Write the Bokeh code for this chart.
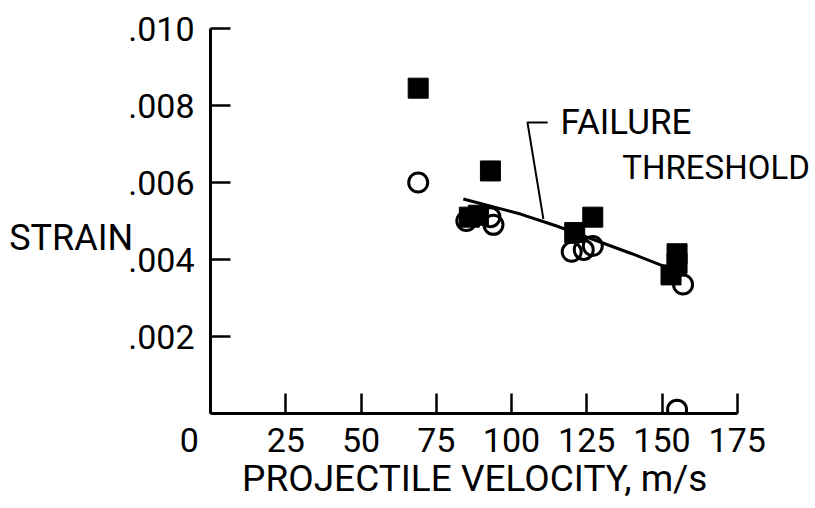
from bokeh.plotting import figure
from bokeh.models import FixedTicker, Label
from bokeh.embed import file_html
from bokeh.resources import INLINE

# ---- data ----
sq_vel = [69, 93, 86, 89, 121, 127, 155, 155, 153]
sq_strain = [0.00845, 0.0063, 0.0051, 0.00515, 0.0047, 0.0051, 0.00415, 0.0039, 0.0036]

circ_vel = [69, 85, 93, 94, 120, 124, 127, 157, 155]
circ_strain = [0.0060, 0.0050, 0.0051, 0.0049, 0.0042, 0.00425, 0.00435, 0.00335, 0.0001]

thr_vel = [84, 103, 115, 140, 152]
thr_strain = [0.00557, 0.00518, 0.00487, 0.00415, 0.00378]

leader_vel = [112, 105.3, 110.6]
leader_strain = [0.00756, 0.00756, 0.00505]

NB = "\u00a0"
x_ticks = [0, 25, 50, 75, 100, 125, 150, 175]
x_tick_labels = ["0" + NB * 5, "25", "50", "75", "100", "125", "150", "175"]
y_ticks = [0.002, 0.004, 0.006, 0.008, 0.010]
y_tick_labels = [".002", ".004", ".006", ".008", ".010"]

FONT = "Roboto"

p = figure(width=815, height=508, output_backend="svg", toolbar_location=None,
           x_range=(0, 200), y_range=(0, 0.010),
           min_border_left=210, min_border_right=3, min_border_top=28, min_border_bottom=95)
p.outline_line_color = None
p.grid.visible = False
p.background_fill_color = "white"
p.border_fill_color = "white"

for ax in (p.xaxis[0], p.yaxis[0]):
    ax.axis_line_width = 3
    ax.axis_line_color = "black"
    ax.major_tick_line_width = 2.5
    ax.major_tick_line_color = "black"
    ax.major_tick_in = 20
    ax.major_tick_out = 0
    ax.minor_tick_line_color = None
    ax.major_label_text_font = FONT
    ax.major_label_text_font_size = "34px"
    ax.major_label_text_color = "black"
    ax.axis_label_text_font = FONT
    ax.axis_label_text_font_style = "normal"
    ax.axis_label_text_color = "black"

xa = p.xaxis[0]
xa.ticker = FixedTicker(ticks=x_ticks)
xa.major_label_overrides = {t: l for t, l in zip(x_ticks, x_tick_labels)}
xa.bounds = (0, 175)
xa.major_label_standoff = 6
xa.axis_label = "PROJECTILE VELOCITY, m/s" + NB * 8
xa.axis_label_text_font_size = "37px"
xa.axis_label_standoff = -6

ya = p.yaxis[0]
ya.ticker = FixedTicker(ticks=y_ticks)
ya.major_label_overrides = {t: l for t, l in zip(y_ticks, y_tick_labels)}
ya.bounds = (0, 0.010)
ya.major_label_standoff = 16
ya.axis_label = "\nSTRAIN"
ya.axis_label_orientation = "horizontal"
ya.axis_label_text_font_size = "36px"
ya.axis_label_text_line_height = 0.8
ya.axis_label_standoff = -8

# threshold line and leader
p.line(thr_vel, thr_strain, line_color="black", line_width=3)
p.line(leader_vel, leader_strain, line_color="black", line_width=2)

# data points
p.scatter(sq_vel, sq_strain, marker="square", size=20, fill_color="black", line_color="black", line_width=1)
p.scatter(circ_vel, circ_strain, marker="circle", size=19, fill_color=None, line_color="black", line_width=3)

def lab(x, y, text, size):
    p.add_layout(Label(x=x, y=y, text=text, text_align="left", text_baseline="middle",
                       text_font=FONT, text_font_size=size, text_color="black"))

lab(116.3, 0.00756, "FAILURE", "35px")
lab(136.8, 0.00640, "THRESHOLD", "33px")

open("out.html", "w").write(file_html(p, INLINE))
